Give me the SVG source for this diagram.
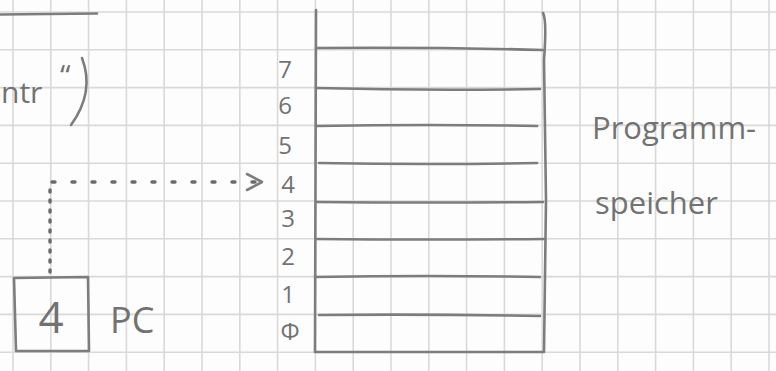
<svg xmlns="http://www.w3.org/2000/svg" width="776" height="371" viewBox="0 0 776 371">
<style>
.grid{stroke:#d9d9d9;stroke-width:1.6;fill:none}
.ink{stroke:#7d7d7d;stroke-width:2.6;fill:none;stroke-linecap:round;stroke-linejoin:round}
.txt{font-family:"Open Sans","DejaVu Sans",sans-serif;fill:#727272}
.num{font-size:24px;text-anchor:middle}
.dot{stroke:#6a6a6a;stroke-width:3.4;fill:none;stroke-linecap:round}
</style>
<rect width="776" height="371" fill="#fdfdfd"/>
<path class="grid" d="M13 0V371M50.8 0V371M88.6 0V371M126.4 0V371M164.2 0V371M202 0V371M239.8 0V371M277.6 0V371M315.4 0V371M353.2 0V371M391 0V371M428.8 0V371M466.6 0V371M504.4 0V371M542.2 0V371M580 0V371M617.8 0V371M655.6 0V371M693.4 0V371M731.2 0V371M769 0V371M0 12H776M0 49.8H776M0 87.6H776M0 125.4H776M0 163.2H776M0 201H776M0 238.8H776M0 276.6H776M0 314.4H776M0 352.2H776"/>
<g id="fragment">
<path class="ink" d="M0 14.5 L97 13.5"/>
<text class="txt" x="1" y="103" font-size="30">ntr</text>
<text class="txt" x="60" y="86" font-size="30">“</text>
<path class="ink" d="M82 58 Q95 92 71 125"/>
</g>
<g id="memory">
<path class="ink" d="M316 10 L315 352 M543 13 Q547 20 544 60 L546 200 L544 352 M315 352 L544 352"/>
<path class="ink" d="M316 48 Q430 47 543 50 M316 88 Q430 91 540 89 M316 126 Q430 124 537 126 M319 163 Q430 165 537 163 M317 202 Q430 203 543 202 M316 239 Q430 240 545 239 M315 277 Q430 275 540 277 M319 315 Q430 314 540 316"/>
<g class="txt num">
<text x="285" y="78">7</text>
<text x="285" y="114">6</text>
<text x="285" y="154">5</text>
<text x="288" y="193">4</text>
<text x="288" y="227">3</text>
<text x="288" y="265">2</text>
<text x="288" y="303">1</text>
<text x="290" y="340">Φ</text>
</g>
</g>
<g id="pc">
<path class="ink" d="M14 278 L88 277 L89 351 L16 351 Z"/>
<text class="txt" x="51" y="333" font-size="44" text-anchor="middle">4</text>
<text class="txt" x="110" y="333" font-size="36">PC</text>
</g>
<g id="label">
<text class="txt" x="592" y="139" font-size="31">Programm-</text>
<text class="txt" x="595" y="214" font-size="31">speicher</text>
</g>
<g id="connectors">
<path class="dot" d="M50 272 L50 183" stroke-dasharray="2 8"/>
<path class="dot" d="M52 182 L258 182" stroke-dasharray="3 17"/>
<path class="ink" d="M247 174 L262 182 L247 190"/>
</g>
</svg>
